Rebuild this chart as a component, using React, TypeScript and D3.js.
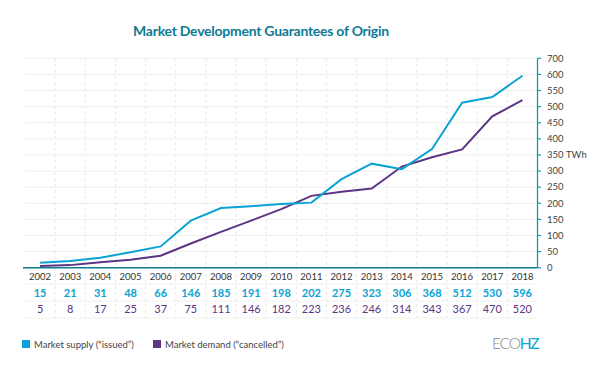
import React from "react";
import * as d3 from "d3";

const years = ["2002","2003","2004","2005","2006","2007","2008","2009","2010","2011","2012","2013","2014","2015","2016","2017","2018"];
const supply = [15,21,31,48,66,146,185,191,198,202,275,323,306,368,512,530,596];
const demand = [5,8,17,25,37,75,111,146,182,223,236,246,314,343,367,470,520];
const yTickValues = [0,50,100,150,200,250,300,350,400,450,500,550,600,650];
const yTickLabels = ["0","50","100","150","200","250","300","350","400","450","500","550","600","700"];
const seriesNames = ["Market supply (\u201cissued\u201d)", "Market demand (\u201ccancelled\u201d)"];
const title = "Market Development Guarantees of Origin";

const W = 600, H = 375;
const CYAN = "#0aa3d3";
const PURPLE = "#5c3584";
const TEAL = "#0e7b95";
const FONT = "Lato, 'Open Sans', sans-serif";

export default function App() {
  const x = d3.scaleBand<string>().domain(years).range([25, 537.5]).padding(0);
  const y = d3.scaleLinear().domain([0, 650]).range([267.7, 58.3]);
  const cx = (d: string) => (x(d) as number) + x.bandwidth() / 2;
  const line = d3.line<number>().x((_, i) => cx(years[i])).y((v) => y(v));
  const boundaries = years.slice(1).map((d) => x(d) as number);

  return (
    <svg width={W} height={H} style={{ position: "absolute", left: 0, top: 0, background: "#fff" }} fontFamily={FONT}>
      <text x={261} y={35.5} textAnchor="middle" fontSize={14} fontWeight={700} letterSpacing={-0.25} fill={TEAL}>{title}</text>
      {/* horizontal grid */}
      {yTickValues.slice(1).map((t) => (
        <line key={"h" + t} x1={25} x2={537.5} y1={y(t)} y2={y(t)} stroke="#efefef" strokeWidth={1} />
      ))}
      {/* vertical dashed grid */}
      {boundaries.map((b, i) => (
        <line key={"v" + i} x1={b} x2={b} y1={58} y2={318} stroke="#e8e8e8" strokeWidth={1} strokeDasharray="3,3" />
      ))}
      {/* table separators */}
      {[284, 301, 318].map((yy) => (
        <line key={"s" + yy} x1={25} x2={537.5} y1={yy} y2={yy} stroke="#f0f0f0" strokeWidth={1} />
      ))}
      {/* x axis line */}
      <line x1={23} x2={537.5} y1={y(0)} y2={y(0)} stroke={TEAL} strokeWidth={1.5} />
      {/* right axis */}
      <line x1={537.5} x2={537.5} y1={y(650)} y2={y(0)} stroke={"#1796bd"} strokeWidth={1.3} />
      {yTickValues.map((t, i) => (
        <g key={"t" + t}>
          <line x1={537.5} x2={541} y1={y(t)} y2={y(t)} stroke={"#1796bd"} strokeWidth={1.2} />
          <text x={547} y={y(t) + 3.3} fontSize={9.5} fill="#444">{yTickLabels[i]}</text>
        </g>
      ))}
      <text x={566} y={y(350) + 3.3} fontSize={9.5} fill="#444">TWh</text>
      {/* lines */}
      <path d={line(demand) || ""} fill="none" stroke={PURPLE} strokeWidth={2} />
      <path d={line(supply) || ""} fill="none" stroke={CYAN} strokeWidth={2} />
      {/* table */}
      {years.map((yr, i) => (
        <g key={"r" + yr}>
          <text x={cx(yr)} y={279.5} textAnchor="middle" fontSize={9.5} fill="#333">{yr}</text>
          <text x={cx(yr)} y={296.5} textAnchor="middle" fontSize={11} fontWeight={700} fill={CYAN}>{supply[i]}</text>
          <text x={cx(yr)} y={312.5} textAnchor="middle" fontSize={11} fill={PURPLE}>{demand[i]}</text>
        </g>
      ))}
      {/* legend */}
      <rect x={22} y={340} width={8} height={8} fill={CYAN} />
      <text x={34} y={347.5} fontSize={9.5} fill="#444">{seriesNames[0]}</text>
      <rect x={153} y={340} width={8} height={8} fill={PURPLE} />
      <text x={165} y={347.5} fontSize={9.5} fill="#444">{seriesNames[1]}</text>
      {/* logo */}
      <text x={492} y={348.5} fontSize={15.5} fontWeight={300} letterSpacing={-1.2}>
        <tspan fill="#8a8a8a">ECO</tspan><tspan fill={CYAN} fontWeight={400}>HZ</tspan>
      </text>
    </svg>
  );
}
